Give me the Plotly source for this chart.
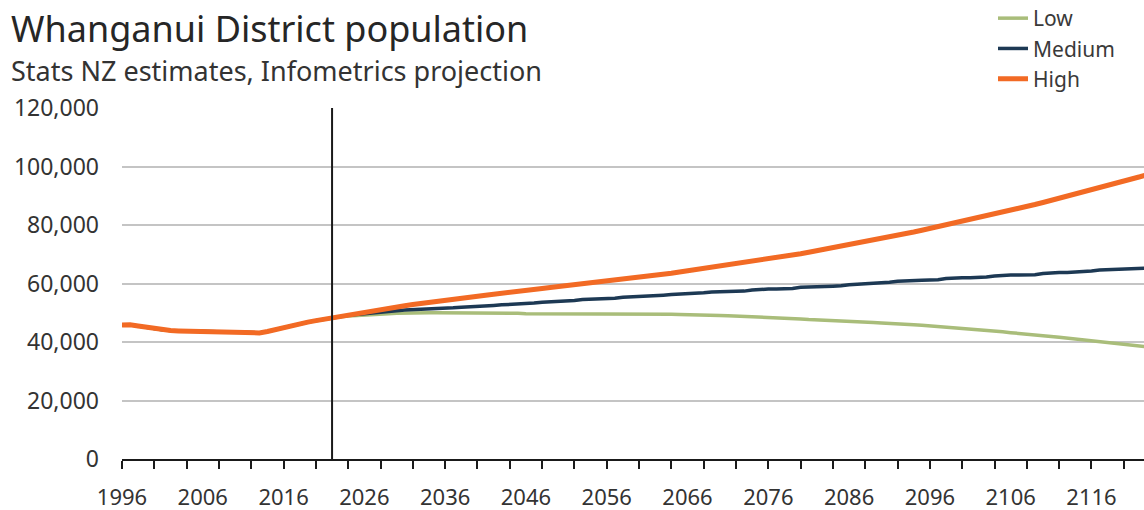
import plotly.graph_objects as go

# ---------------- data ----------------
hist_years = list(range(1996, 2023))
hist_pop = [45800, 45900, 45500, 45000, 44500, 44200, 43900, 43800, 43700, 43600,
            43500, 43400, 43400, 43300, 43300, 43300, 43200, 43100, 43600, 44300,
            45000, 45700, 46300, 46800, 47300, 47800, 48300]

proj_years = list(range(2023, 2124))

low_proj = [48600, 48900, 49100, 49300, 49500, 49600, 49700, 49800, 49900, 49900,
            50000, 50000, 50000, 50000, 50000, 50000, 49900, 49900, 49900, 49900,
            49800, 49800, 49800, 49700, 49700, 49700, 49600, 49600, 49600, 49600,
            49600, 49500, 49500, 49500, 49500, 49500, 49500, 49500, 49500, 49500,
            49500, 49500, 49400, 49400, 49300, 49300, 49200, 49100, 49000, 48900,
            48800, 48700, 48600, 48500, 48300, 48200, 48000, 47900, 47700, 47600,
            47500, 47400, 47300, 47100, 47000, 46900, 46700, 46500, 46400, 46200,
            46000, 45900, 45700, 45500, 45300, 45100, 44900, 44700, 44400, 44200,
            44000, 43700, 43500, 43200, 43000, 42700, 42400, 42100, 41900, 41600,
            41300, 41000, 40700, 40400, 40100, 39800, 39500, 39200, 38900, 38600,
            38300]

medium_proj = [48700, 49100, 49400, 49700, 50000, 50200, 50500, 50700, 50900, 51000,
               51100, 51300, 51400, 51500, 51700, 51900, 52000, 52100, 52200, 52500,
               52700, 52800, 52900, 53000, 53300, 53600, 53700, 53800, 53900, 54200,
               54500, 54600, 54700, 54800, 55000, 55300, 55400, 55500, 55600, 55700,
               56000, 56200, 56300, 56400, 56500, 56800, 57100, 57200, 57300, 57300,
               57400, 57800, 58000, 58100, 58100, 58200, 58300, 58700, 58900, 59000,
               59000, 59100, 59200, 59600, 59800, 59900, 59900, 60300, 60400, 60800,
               61000, 61100, 61100, 61200, 61300, 61700, 61900, 62000, 62000, 62100,
               62200, 62600, 62800, 62900, 62900, 63000, 63000, 63400, 63700, 63800,
               63800, 63900, 63900, 64300, 64600, 64700, 64700, 64800, 64800, 65100,
               65300]

high_proj = [48800, 49300, 49800, 50300, 50800, 51200, 51600, 52000, 52400, 52800,
             53200, 53600, 54000, 54400, 54700, 55000, 55400, 55700, 56000, 56300,
             56700, 57000, 57300, 57700, 58000, 58300, 58600, 58900, 59200, 59600,
             59900, 60200, 60500, 60900, 61200, 61500, 61800, 62200, 62500, 62800,
             63200, 63500, 63900, 64300, 64700, 65000, 65400, 65800, 66200, 66600,
             67000, 67400, 67900, 68300, 68800, 69200, 69700, 70200, 70700, 71200,
             71700, 72200, 72700, 73200, 73700, 74200, 74800, 75300, 75900, 76400,
             77000, 77600, 78200, 78800, 79400, 80000, 80600, 81200, 81800, 82400,
             83100, 83700, 84400, 85000, 85700, 86400, 87000, 87700, 88400, 89100,
             89800, 90500, 91300, 92000, 92800, 93500, 94300, 95000, 95800, 96500,
             97300]

series_names = ["Low", "Medium", "High"]
series_proj = [low_proj, medium_proj, high_proj]
series_colors = ["#a9bd7a", "#1d3954", "#f26a24"]
series_widths = [3.5, 3.5, 5]

x_tick_labels = [str(y) for y in range(1996, 2117, 10)]
x_tick_marks = list(range(1996, 2123, 4))
y_tick_vals = [0, 20000, 40000, 60000, 80000, 100000, 120000]
divider_year = 2022

FONT = "Noto Sans"
W, H = 1144, 510
ML, MR, MT, MB = 122, 0, 108, 51

# ---------------- figure ----------------
fig = go.Figure()
all_years = hist_years + proj_years
for name, proj, col, w in zip(series_names, series_proj, series_colors, series_widths):
    fig.add_trace(go.Scatter(
        x=all_years, y=hist_pop + proj, mode="lines", name=name,
        legendgroup=name,
        line=dict(color=col, width=w),
        xaxis="x", yaxis="y",
    ))

# helper trace for the label axis
fig.add_trace(go.Scatter(x=[1996], y=[None], xaxis="x2", yaxis="y",
                         showlegend=False, hoverinfo="skip", mode="lines"))

fig.add_shape(type="line", xref="x", yref="paper", x0=divider_year, x1=divider_year,
              y0=0, y1=1, line=dict(color="#1a1a1a", width=2), layer="above")

plot_h = H - MT - MB
plot_w = W - ML - MR
def px_x(px):
    return (px - ML) / plot_w
def px_y(py):
    return (H - MB - py) / plot_h

fig.update_layout(
    width=W, height=H,
    margin=dict(l=ML, r=MR, t=MT, b=MB, pad=0, autoexpand=False),
    paper_bgcolor="white", plot_bgcolor="white",
    font=dict(family=FONT, color="#333333"),
    showlegend=True,
    legend=dict(
        xref="paper", yref="paper", x=px_x(993), y=px_y(-2),
        xanchor="left", yanchor="top",
        font=dict(size=21, color="#3a3a3a"),
        tracegroupgap=0, bgcolor="rgba(0,0,0,0)",
        itemwidth=30,
    ),
    xaxis=dict(
        range=[1996, 2122.5], showgrid=False, zeroline=False,
        showline=True, linecolor="#1a1a1a", linewidth=2,
        tickmode="array", tickvals=x_tick_marks, showticklabels=False,
        ticks="outside", ticklen=8, tickwidth=2, tickcolor="#1a1a1a",
    ),
    xaxis2=dict(
        range=[1996, 2122.5], overlaying="x", anchor="y", side="bottom",
        showgrid=False, zeroline=False, showline=False,
        tickmode="array", tickvals=[int(t) for t in x_tick_labels], ticktext=x_tick_labels,
        ticks="", ticklabelstandoff=23,
        tickfont=dict(size=22, color="#333333"),
    ),
    yaxis=dict(
        range=[0, 120000], tickmode="array", tickvals=y_tick_vals,
        tickformat=",", showgrid=True, gridcolor="#c4c4c4", gridwidth=2,
        zeroline=False, showline=False, ticks="", ticklabelstandoff=22,
        tickfont=dict(size=23, color="#333333"),
    ),
    annotations=[
        dict(text="Whanganui District population", xref="paper", yref="paper",
             x=px_x(9), y=px_y(28), xanchor="left", yanchor="middle", showarrow=False,
             font=dict(size=36, color="#262626", family=FONT)),
        dict(text="Stats NZ estimates, Infometrics projection", xref="paper", yref="paper",
             x=px_x(9), y=px_y(70), xanchor="left", yanchor="middle", showarrow=False,
             font=dict(size=27, color="#333333", family=FONT)),
    ],
)

fig.write_html("out.html")
